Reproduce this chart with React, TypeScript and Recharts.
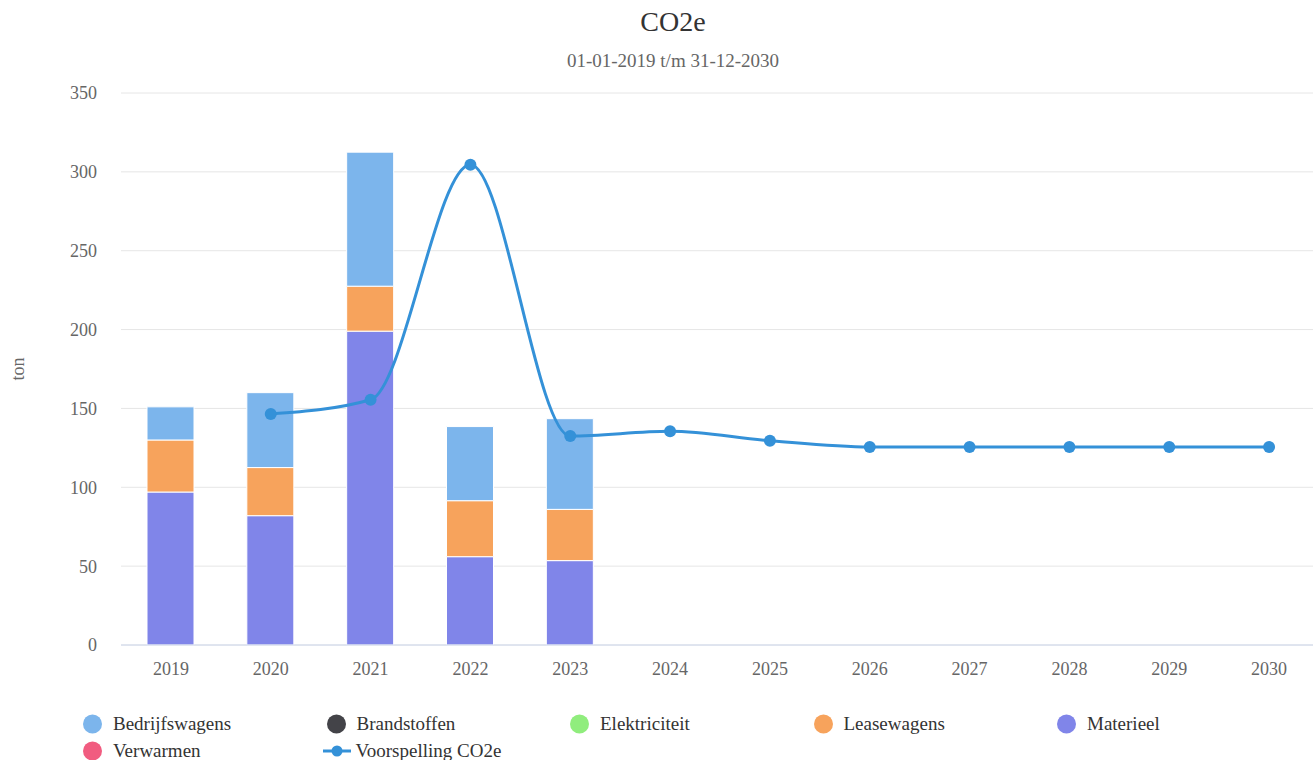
import { Bar, CartesianGrid, ComposedChart, Line, XAxis, YAxis } from 'recharts';

const years = ['2019', '2020', '2021', '2022', '2023', '2024', '2025', '2026', '2027', '2028', '2029', '2030'];
const materieel = [97, 82, 199, 56, 53.5, null, null, null, null, null, null, null];
const leasewagens = [33, 30.5, 28.5, 35.5, 32.5, null, null, null, null, null, null, null];
const bedrijfswagens = [21, 47.5, 85, 47, 57.5, null, null, null, null, null, null, null];
const voorspelling = [null, 146.5, 155.5, 304.5, 132.5, 135.5, 129.5, 125.5, 125.5, 125.5, 125.5, 125.5];
const yTicks = [0, 50, 100, 150, 200, 250, 300, 350];

const legendItems = [
  { name: 'Bedrijfswagens', color: '#7cb5ec' },
  { name: 'Brandstoffen', color: '#434348' },
  { name: 'Elektriciteit', color: '#90ed7d' },
  { name: 'Leasewagens', color: '#f7a35c' },
  { name: 'Materieel', color: '#8085e9' },
  { name: 'Verwarmen', color: '#f15c80' },
  { name: 'Voorspelling CO2e', color: '#3491d8', line: true },
];

const LINE_COLOR = '#3491d8';
const FONT = '"Liberation Serif", "Times New Roman", serif';

const data = years.map((year, i) => ({
  year,
  materieel: materieel[i],
  leasewagens: leasewagens[i],
  bedrijfswagens: bedrijfswagens[i],
  voorspelling: voorspelling[i],
}));

function LegendBlock() {
  return (
    <div style={{ position: 'absolute', left: 83, top: 712, width: 1230 }}>
      {legendItems.map((item, i) => (
        <div
          key={item.name}
          style={{
            position: 'absolute',
            left: (i % 5) * 243.5,
            top: Math.floor(i / 5) * 27,
            height: 24,
            display: 'flex',
            alignItems: 'center',
            fontFamily: FONT,
            fontSize: 19,
            color: '#333',
            whiteSpace: 'nowrap',
          }}
        >
          {item.line ? (
            <svg width={28} height={20} style={{ marginLeft: -4, marginRight: 5 }}>
              <line x1={0} y1={10} x2={28} y2={10} stroke={item.color} strokeWidth={3} />
              <circle cx={14} cy={10} r={5.5} fill={item.color} />
            </svg>
          ) : (
            <svg width={19} height={20} style={{ marginRight: 11 }}>
              <circle cx={9.5} cy={10} r={9.5} fill={item.color} />
            </svg>
          )}
          {item.name}
        </div>
      ))}
    </div>
  );
}

export default function App() {
  return (
    <div style={{ position: 'absolute', left: 0, top: 0, width: 1313, height: 760, overflow: 'hidden', background: '#fff' }}>
      <div style={{ position: 'absolute', left: 0, width: 1346, top: 6, textAlign: 'center', fontFamily: FONT, fontSize: 28, color: '#333' }}>
        CO2e
      </div>
      <div style={{ position: 'absolute', left: 0, width: 1346, top: 50, textAlign: 'center', fontFamily: FONT, fontSize: 19, color: '#666' }}>
        01-01-2019 t/m 31-12-2030
      </div>
      <ComposedChart
        width={1319}
        height={760}
        data={data}
        margin={{ top: 93, right: 0, bottom: 85, left: 0 }}
        style={{ position: 'absolute', left: 0, top: 0 }}
      >
        <CartesianGrid vertical={false} stroke="#e6e6e6" />
        <XAxis
          dataKey="year"
          height={30}
          tickLine={false}
          axisLine={{ stroke: '#ccd6eb' }}
          tickMargin={11}
          tick={{ fontSize: 18, fill: '#666', fontFamily: FONT }}
        />
        <YAxis
          width={121}
          domain={[0, 350]}
          ticks={yTicks}
          axisLine={false}
          tickLine={false}
          tickMargin={18}
          tick={{ fontSize: 18, fill: '#666', fontFamily: FONT }}
          label={{
            value: 'ton',
            angle: -90,
            position: 'insideLeft',
            offset: 18,
            style: { textAnchor: 'middle', fontSize: 18, fill: '#666', fontFamily: FONT },
          }}
        />
        <Bar dataKey="materieel" stackId="a" fill="#8085e9" stroke="#fff" strokeWidth={1} barSize={47} isAnimationActive={false} />
        <Bar dataKey="leasewagens" stackId="a" fill="#f7a35c" stroke="#fff" strokeWidth={1} barSize={47} isAnimationActive={false} />
        <Bar dataKey="bedrijfswagens" stackId="a" fill="#7cb5ec" stroke="#fff" strokeWidth={1} barSize={47} isAnimationActive={false} />
        <Line
          type="monotone"
          dataKey="voorspelling"
          stroke={LINE_COLOR}
          strokeWidth={3}
          dot={{ r: 6, fill: LINE_COLOR, stroke: LINE_COLOR, strokeWidth: 0 }}
          activeDot={false}
          isAnimationActive={false}
        />
      </ComposedChart>
      <LegendBlock />
    </div>
  );
}
